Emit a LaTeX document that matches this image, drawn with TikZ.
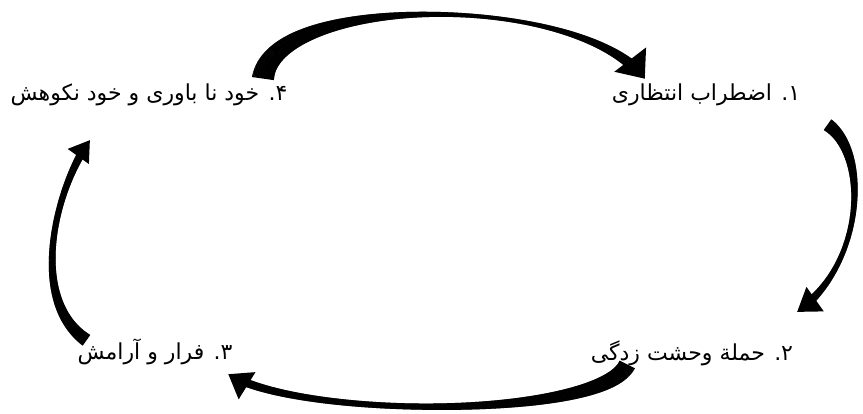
\documentclass[tikz,border=0pt]{standalone}
\usepackage{fontspec}
\usetikzlibrary{decorations.markings}
\newfontfamily\persianfont[Script=Arabic]{DejaVu Sans}
\TeXXeTstate=1

\begin{document}
\begin{tikzpicture}[
    x=1pt, y=1pt,
    phase/.style={font=\persianfont\fontsize{22}{26}\selectfont, inner sep=0pt},
    cycarrow/.style n args={5}{
        postaction={decorate, decoration={markings,
            mark=between positions 0 and -#4pt+3pt step 0.7pt with {
                \pgfmathsetmacro\pp{\pgfkeysvalueof{/pgf/decoration/mark info/distance from start}/\pgfdecoratedpathlength}
                \pgfmathsetmacro\hw{(\pp<0.6 ? #2+(#1-#2)*(1-\pp/0.6)^2 : #2+(#3-#2)*((\pp-0.6)/0.4)^2)/2}
                \fill (-0.6,-\hw) rectangle (0.6,\hw);
            }}},
        postaction={decorate, decoration={markings,
            mark=at position 0.999 with {\fill (0,0) -- (-#4,#5/2) -- (-#4,-#5/2) -- cycle;}}}
    }
]
\useasboundingbox (0,0) rectangle (863,414);

\node[phase] (p1) at (706,319) {\beginR ۱. اضطراب انتظاری\endR};
\node[phase] (p2) at (692,61) {\beginR ۲. حملة وحشت زدگی\endR};
\node[phase] (p3) at (155,62) {\beginR ۳. فرار و آرامش\endR};
\node[phase] (p4) at (149,319) {\beginR ۴. خود نا باوری و خود نکوهش\endR};

% 4 -> 1
\path[cycarrow={22}{4}{13}{24}{40}] ([shift={(114,17)}]p4.center)
    .. controls +(12,85) and +(-65,86) .. ([shift={(-61,16)}]p1.center);
% 1 -> 2
\path[cycarrow={13}{5}{10}{22}{30}] ([shift={(122,-30)}]p1.center)
    .. controls +(41,-29) and +(68,48) .. ([shift={(105,41)}]p2.center);
% 2 -> 3
\path[cycarrow={17}{6}{9}{22}{32}] ([shift={(-65,-12)}]p2.center)
    .. controls +(-27,-54) and +(72,-45) .. ([shift={(73,-22)}]p3.center);
% 3 -> 4
\path[cycarrow={13}{6}{9}{20}{26}] ([shift={(-69,12)}]p3.center)
    .. controls +(-58,41) and +(-35,-49) .. ([shift={(-59,-45)}]p4.center);
\end{tikzpicture}
\end{document}
